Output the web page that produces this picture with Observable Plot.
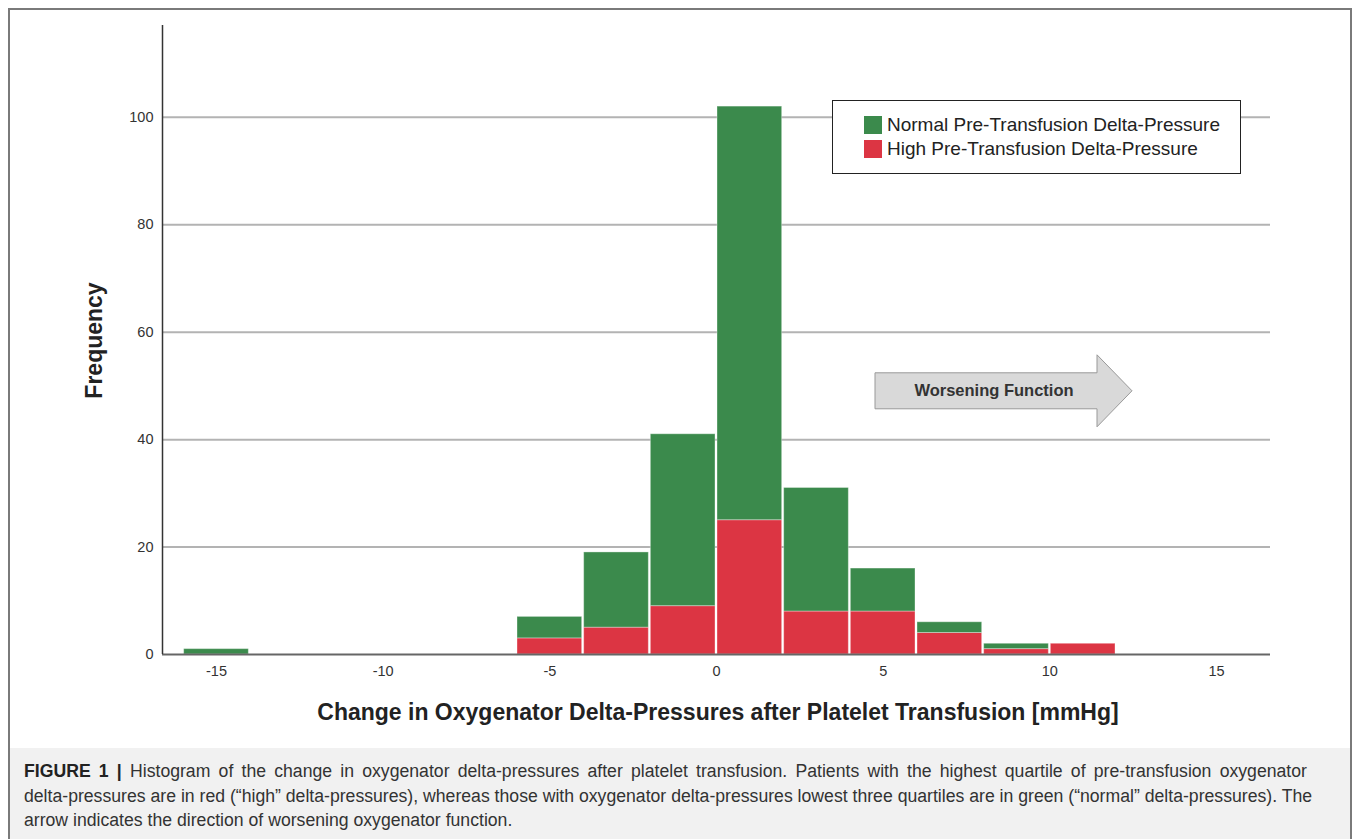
<!DOCTYPE html>
<html>
<head>
<meta charset="utf-8">
<script src="https://cdn.jsdelivr.net/npm/d3@7"></script>
<script src="https://cdn.jsdelivr.net/npm/@observablehq/plot@0.6"></script>
<style>
  html, body { margin: 0; padding: 0; background: #fff; }
  body { width: 1357px; height: 839px; position: relative; overflow: hidden; font-family: "Liberation Sans", Arial, sans-serif; }
  #frame { position: absolute; left: 8px; top: 8px; width: 1344px; height: 840px; border: 2px solid #7a7a7a; box-sizing: border-box; }
  #chart { position: absolute; left: 0; top: 0; }
  #legend { position: absolute; left: 832px; top: 100px; width: 409px; height: 74px; box-sizing: border-box; border: 1.5px solid #222; background: #fff; }
  .item { position: absolute; left: 31px; font-size: 19px; color: #222; display: flex; align-items: center; }
  .sw { width: 18px; height: 18px; margin-right: 5px; }
  #caption { position: absolute; left: 10px; top: 748px; width: 1340px; height: 91px; background: #f1f1f1; box-sizing: border-box; padding: 11px 0 0 14px; font-size: 17.65px; line-height: 24.5px; color: #333; white-space: nowrap; }
  #caption b { color: #222; }
  #caption .l1 { word-spacing: 3.3px; }
</style>
</head>
<body>
<div id="frame"></div>
<div id="chart"></div>
<div id="legend"></div>
<div id="caption"><span class="l1"><b>FIGURE 1 |</b> Histogram of the change in oxygenator delta-pressures after platelet transfusion. Patients with the highest quartile of pre-transfusion oxygenator</span><br><span>delta-pressures are in red (“high” delta-pressures), whereas those with oxygenator delta-pressures lowest three quartiles are in green (“normal” delta-pressures). The</span><br><span>arrow indicates the direction of worsening oxygenator function.</span></div>
<script>
// ---- data ----
const binStart = [-16, -6, -4, -2, 0, 2, 4, 6, 8, 10];
const binWidth = 2;
const normalCounts = [1, 4, 14, 32, 77, 23, 8, 2, 1, 0];
const highCounts   = [0, 3, 5, 9, 25, 8, 8, 4, 1, 2];
const groups = ["Normal Pre-Transfusion Delta-Pressure", "High Pre-Transfusion Delta-Pressure"];
const colors = ["#3b8a4c", "#dc3543"];
const xTicks = [-15, -10, -5, 0, 5, 10, 15];
const yTicks = [0, 20, 40, 60, 80, 100];
const arrowLabel = "Worsening Function";
const xTitle = "Change in Oxygenator Delta-Pressures after Platelet Transfusion [mmHg]";
const yTitle = "Frequency";

// long table: high first so it stacks at the bottom
const table = [];
binStart.forEach((b, i) => {
  table.push({x1: b, x2: b + binWidth, group: groups[1], count: highCounts[i]});
  table.push({x1: b, x2: b + binWidth, group: groups[0], count: normalCounts[i]});
});

const plot = Plot.plot({
  width: 1357,
  height: 740,
  marginLeft: 162,
  marginRight: 87,
  marginTop: 25,
  marginBottom: 86,
  style: {fontFamily: "Liberation Sans, Arial, sans-serif", background: "transparent"},
  x: {domain: [-16.62, 16.62], label: null},
  y: {domain: [0, 117.1], label: null},
  color: {domain: groups, range: colors},
  marks: [
    Plot.gridY(yTicks.filter(d => d > 0), {stroke: "#b3b3b3", strokeOpacity: 1, strokeWidth: 2}),
    Plot.rectY(table, {x1: "x1", x2: "x2", y: "count", fill: "group", insetLeft: 1, insetRight: 1, stroke: "#ffffff", strokeOpacity: 0.35, strokeWidth: 1}),
    Plot.ruleY([0], {stroke: "#666", strokeWidth: 2}),
    Plot.ruleX([-16.62], {stroke: "#333", strokeWidth: 1.5}),
    Plot.axisX({ticks: xTicks, tickSize: 0, tickPadding: 11, fontSize: 14.5, fill: "#333", label: null, tickFormat: d => String(d)}),
    Plot.axisY({ticks: yTicks, tickSize: 0, tickPadding: 9, fontSize: 14.5, fill: "#333", label: null, tickFormat: d => String(d)})
  ]
});
document.getElementById("chart").appendChild(plot);

// titles and arrow annotation positioned via the scales
const sx = plot.scale("x"), sy = plot.scale("y");
const svg = d3.select(plot);
svg.append("text")
  .attr("x", sx.apply(0) + 2).attr("y", 714)
  .attr("text-anchor", "middle").attr("dominant-baseline", "middle")
  .attr("font-size", 23).attr("font-weight", "bold").attr("fill", "#222")
  .text(xTitle);
svg.append("text")
  .attr("transform", `translate(96,${(sy.apply(0) + sy.apply(117.1)) / 2 + 1}) rotate(-90)`)
  .attr("text-anchor", "middle").attr("dominant-baseline", "middle")
  .attr("font-size", 23).attr("font-weight", "bold").attr("fill", "#222")
  .text(yTitle);

// arrow (in data units)
const ax0 = sx.apply(4.77), axH = sx.apply(11.43), axT = sx.apply(12.48);
const ayc = sy.apply(49), bh = 18, hh = 36;
svg.append("path")
  .attr("d", `M${ax0},${ayc - bh}L${axH},${ayc - bh}L${axH},${ayc - hh}L${axT},${ayc}L${axH},${ayc + hh}L${axH},${ayc + bh}L${ax0},${ayc + bh}Z`)
  .attr("fill", "#d9d9d9").attr("stroke", "#999").attr("stroke-width", 1);
svg.append("text")
  .attr("x", (ax0 + axH) / 2 + 8).attr("y", ayc + 1)
  .attr("text-anchor", "middle").attr("dominant-baseline", "middle")
  .attr("font-size", 16.5).attr("font-weight", "bold").attr("fill", "#333")
  .text(arrowLabel);

// legend
const leg = document.getElementById("legend");
groups.forEach((g, i) => {
  const d = document.createElement("div");
  d.className = "item";
  d.style.top = (13 + i * 24) + "px";
  d.innerHTML = `<span class="sw" style="background:${colors[i]}"></span><span>${g}</span>`;
  leg.appendChild(d);
});
</script>
</body>
</html>
